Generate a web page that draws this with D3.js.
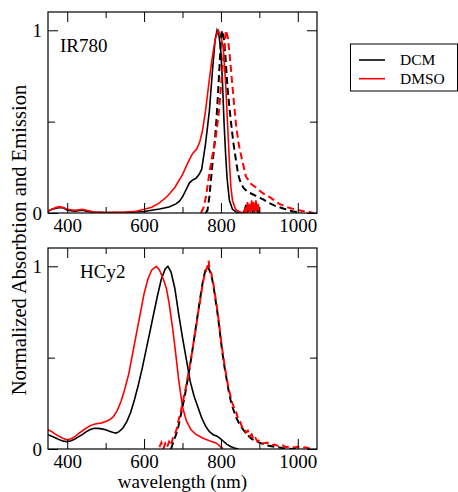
<!DOCTYPE html>
<html>
<head>
<meta charset="utf-8">
<script src="https://cdn.jsdelivr.net/npm/d3@7"></script>
<style>
  body { margin: 0; background: #fff; }
  text { font-family: "Liberation Serif", "Times New Roman", serif; }
</style>
</head>
<body>
<svg id="chart" width="458" height="492"></svg>
<script>
// wavelength (nm), normalized intensity
var irDcmAbs = [[350,0.01],[360,0.02],[370,0.025],[380,0.03],[390,0.028],[400,0.015],[420,0.01],[440,0.015],[450,0.01],[470,0.005],[500,0.003],[550,0.003],[600,0.008],[620,0.015],[640,0.022],[665,0.033],[683,0.05],[692,0.065],[700,0.088],[710,0.13],[718,0.165],[726,0.18],[735,0.19],[743,0.21],[750,0.24],[760,0.38],[770,0.56],[778,0.78],[785,0.95],[790,1.0],[795,0.97],[800,0.88],[804,0.72],[808,0.5],[812,0.33],[816,0.19],[822,0.07],[830,0.02],[840,0.005],[858,0.0],[862,0.02],[865,0.045],[867,0.0],[870,0.05],[872,0.005],[875,0.04],[878,0.01],[880,0.055],[883,0.0],[886,0.05],[889,0.01],[892,0.04],[895,0.0],[898,0.03],[900,0.0]];
var irDmsoAbs = [[350,0.01],[360,0.02],[370,0.03],[380,0.035],[390,0.03],[400,0.02],[420,0.015],[440,0.02],[450,0.015],[470,0.005],[500,0.003],[550,0.005],[580,0.01],[600,0.02],[620,0.032],[640,0.055],[660,0.09],[680,0.14],[700,0.21],[715,0.28],[726,0.325],[737,0.35],[745,0.39],[752,0.45],[760,0.56],[768,0.7],[776,0.83],[785,0.95],[793,1.0],[800,0.97],[806,0.9],[812,0.72],[817,0.5],[822,0.28],[826,0.14],[830,0.07],[838,0.02],[850,0.005],[860,0.0],[864,0.03],[866,0.0],[869,0.06],[871,0.01],[874,0.05],[877,0.0],[880,0.07],[882,0.01],[885,0.06],[888,0.0],[891,0.07],[894,0.01],[897,0.05],[900,0.0]];
var irDcmEm = [[760,0.0],[765,0.015],[770,0.09],[774,0.18],[778,0.27],[783,0.37],[787,0.47],[791,0.6],[796,0.79],[800,0.945],[803,1.0],[808,0.95],[812,0.85],[817,0.69],[822,0.58],[826,0.5],[832,0.39],[839,0.29],[845,0.21],[852,0.16],[860,0.135],[867,0.12],[875,0.11],[885,0.1],[895,0.088],[910,0.075],[925,0.055],[940,0.04],[962,0.025],[985,0.01],[1010,0.0]];
var irDmsoEm = [[748,0.0],[755,0.03],[762,0.1],[770,0.22],[780,0.34],[787,0.42],[795,0.56],[800,0.69],[805,0.82],[809,0.91],[813,1.0],[818,0.96],[823,0.86],[828,0.74],[834,0.6],[840,0.47],[846,0.38],[852,0.32],[865,0.2],[878,0.16],[891,0.14],[908,0.11],[926,0.088],[952,0.05],[975,0.03],[995,0.018],[1015,0.01],[1030,0.005],[1040,0.0]];

var hcDcmAbs = [[350,0.078],[360,0.07],[370,0.06],[380,0.05],[390,0.043],[400,0.04],[410,0.045],[420,0.055],[430,0.068],[440,0.08],[450,0.095],[460,0.107],[470,0.113],[480,0.113],[490,0.11],[500,0.105],[510,0.097],[520,0.09],[527,0.087],[535,0.095],[545,0.115],[555,0.15],[565,0.2],[575,0.27],[585,0.35],[595,0.44],[605,0.54],[615,0.64],[625,0.74],[635,0.84],[645,0.93],[655,0.985],[662,1.0],[670,0.97],[680,0.88],[690,0.74],[700,0.61],[710,0.49],[720,0.37],[730,0.29],[740,0.23],[750,0.17],[760,0.125],[770,0.095],[780,0.078],[790,0.07],[797,0.06],[805,0.045],[815,0.027],[825,0.014],[835,0.006],[845,0.0]];
var hcDmsoAbs = [[350,0.105],[360,0.095],[370,0.08],[380,0.068],[390,0.057],[400,0.05],[410,0.056],[420,0.068],[430,0.085],[440,0.1],[450,0.115],[460,0.128],[470,0.135],[480,0.14],[490,0.143],[500,0.15],[510,0.16],[520,0.177],[530,0.21],[540,0.26],[550,0.33],[560,0.41],[570,0.52],[580,0.63],[590,0.74],[600,0.85],[610,0.93],[620,0.98],[632,1.0],[640,0.98],[650,0.93],[658,0.88],[665,0.8],[675,0.65],[683,0.51],[690,0.38],[700,0.23],[710,0.155],[722,0.105],[735,0.08],[752,0.06],[770,0.045],[787,0.033],[795,0.02],[800,0.01],[805,0.003]];
var hcDcmEm = [[670,0.0],[675,0.03],[680,0.06],[685,0.09],[690,0.13],[695,0.18],[700,0.23],[705,0.28],[710,0.34],[715,0.4],[720,0.46],[725,0.53],[730,0.6],[735,0.67],[740,0.74],[745,0.81],[750,0.88],[755,0.94],[760,0.98],[765,1.0],[770,0.98],[775,0.95],[780,0.9],[785,0.83],[790,0.76],[795,0.68],[800,0.59],[805,0.51],[810,0.44],[815,0.38],[820,0.32],[825,0.27],[830,0.23],[835,0.2],[840,0.17],[850,0.13],[860,0.1],[870,0.075],[880,0.055],[890,0.045],[900,0.035],[920,0.02],[940,0.012],[960,0.006],[980,0.002],[1000,0.0]];
var hcDmsoEm = [[640,0.01],[645,0.035],[650,0.0],[655,0.03],[660,0.01],[665,0.04],[670,0.02],[675,0.06],[680,0.08],[685,0.11],[690,0.16],[695,0.2],[700,0.25],[705,0.3],[710,0.35],[715,0.41],[720,0.47],[725,0.53],[730,0.6],[735,0.66],[740,0.74],[745,0.8],[750,0.87],[755,0.93],[760,0.97],[765,1.0],[768,1.03],[770,0.99],[775,0.96],[780,0.91],[785,0.84],[790,0.77],[795,0.69],[800,0.6],[805,0.52],[810,0.45],[815,0.39],[820,0.33],[825,0.29],[830,0.25],[835,0.22],[840,0.2],[845,0.16],[850,0.15],[855,0.12],[860,0.12],[865,0.09],[870,0.1],[875,0.07],[880,0.08],[885,0.05],[890,0.06],[895,0.04],[900,0.05],[910,0.03],[920,0.035],[930,0.02],[940,0.025],[950,0.015],[960,0.02],[970,0.01],[980,0.015],[990,0.008],[1000,0.012],[1010,0.005],[1020,0.01],[1030,0.003],[1040,0.006]];

var xMajor = [400, 600, 800, 1000],
    xMinor = [500, 700, 900],
    yMajor = [0, 1],
    yMinor = [0.5];

var legendItems = [{name: 'DCM', color: '#000000'}, {name: 'DMSO', color: '#ff0000'}];

var panels = [
    {label: 'IR780', top: 12, bottom: 213, abs: [irDcmAbs, irDmsoAbs], em: [irDcmEm, irDmsoEm]},
    {label: 'HCy2', top: 248, bottom: 449, abs: [hcDcmAbs, hcDmsoAbs], em: [hcDcmEm, hcDmsoEm]}
];

var svg = d3.select('#chart');
var left = 48, right = 317;
var fontSize = 19;

var x = d3.scaleLinear().domain([350, 1050]).range([left, right]);

panels.forEach(function (p, pi) {
    var y = d3.scaleLinear().domain([0, 1.1]).range([p.bottom, p.top]);
    var g = svg.append('g');
    var clipId = 'clip' + pi;

    svg.append('clipPath').attr('id', clipId)
        .append('rect')
        .attr('x', left).attr('y', p.top)
        .attr('width', right - left).attr('height', p.bottom - p.top);

    var line = d3.line()
        .x(function (d) { return x(d[0]); })
        .y(function (d) { return y(d[1]); });

    var curves = g.append('g').attr('clip-path', 'url(#' + clipId + ')');
    p.abs.forEach(function (s, i) {
        curves.append('path').datum(s)
            .attr('d', line)
            .attr('fill', 'none')
            .attr('stroke', legendItems[i].color)
            .attr('stroke-width', 1.6);
    });
    p.em.forEach(function (s, i) {
        curves.append('path').datum(s)
            .attr('d', line)
            .attr('fill', 'none')
            .attr('stroke', legendItems[i].color)
            .attr('stroke-width', 2)
            .attr('stroke-dasharray', '7,4');
    });

    // axes with inward ticks on all four sides
    g.append('g').attr('transform', 'translate(0,' + p.bottom + ')')
        .call(d3.axisBottom(x).tickValues(xMajor).tickSize(-10).tickPadding(6).tickFormat(d3.format('d')));
    g.append('g').attr('transform', 'translate(0,' + p.bottom + ')')
        .call(d3.axisBottom(x).tickValues(xMinor).tickSize(-6).tickFormat(''));
    g.append('g').attr('transform', 'translate(0,' + p.top + ')')
        .call(d3.axisTop(x).tickValues(xMajor).tickSize(-10).tickFormat(''));
    g.append('g').attr('transform', 'translate(0,' + p.top + ')')
        .call(d3.axisTop(x).tickValues(xMinor).tickSize(-6).tickFormat(''));

    g.append('g').attr('transform', 'translate(' + left + ',0)')
        .call(d3.axisLeft(y).tickValues(yMajor).tickSize(-10).tickPadding(6).tickFormat(d3.format('d')));
    g.append('g').attr('transform', 'translate(' + left + ',0)')
        .call(d3.axisLeft(y).tickValues(yMinor).tickSize(-7).tickFormat(''));
    g.append('g').attr('transform', 'translate(' + right + ',0)')
        .call(d3.axisRight(y).tickValues(yMajor).tickSize(-10).tickFormat(''));
    g.append('g').attr('transform', 'translate(' + right + ',0)')
        .call(d3.axisRight(y).tickValues(yMinor).tickSize(-7).tickFormat(''));

    g.selectAll('.domain').remove();
    g.selectAll('.tick line').attr('stroke', '#000').attr('stroke-width', 1);
    g.selectAll('.tick text')
        .attr('fill', '#000')
        .style('font-family', '"Liberation Serif", serif')
        .style('font-size', fontSize + 'px');

    g.append('rect')
        .attr('x', left).attr('y', p.top)
        .attr('width', right - left).attr('height', p.bottom - p.top)
        .attr('fill', 'none').attr('stroke', '#000').attr('stroke-width', 1.2);

    g.append('text')
        .attr('x', pi === 0 ? 60 : 80)
        .attr('y', y(1.1) + (pi === 0 ? 40 : 30))
        .style('font-size', fontSize + 'px')
        .text(p.label);
});

svg.append('text')
    .attr('x', (left + right) / 2)
    .attr('y', 488)
    .attr('text-anchor', 'middle')
    .style('font-size', fontSize + 'px')
    .text('wavelength (nm)');

svg.append('text')
    .attr('transform', 'translate(26,240) rotate(-90)')
    .attr('text-anchor', 'middle')
    .style('font-size', '20.6px')
    .text('Normalized Absorbtion and Emission');

// legend
var legend = svg.append('g');
legend.append('rect')
    .attr('x', 350.5).attr('y', 44)
    .attr('width', 107).attr('height', 47)
    .attr('fill', '#fff').attr('stroke', '#000').attr('stroke-width', 1);
legendItems.forEach(function (d, i) {
    legend.append('line')
        .attr('x1', 359).attr('x2', 385)
        .attr('y1', 60 + i * 18.7).attr('y2', 60 + i * 18.7)
        .attr('stroke', d.color).attr('stroke-width', 1.6);
    legend.append('text')
        .attr('x', 400).attr('y', 65 + i * 18.5)
        .style('font-size', '15.5px')
        .text(d.name);
});
</script>
</body>
</html>
